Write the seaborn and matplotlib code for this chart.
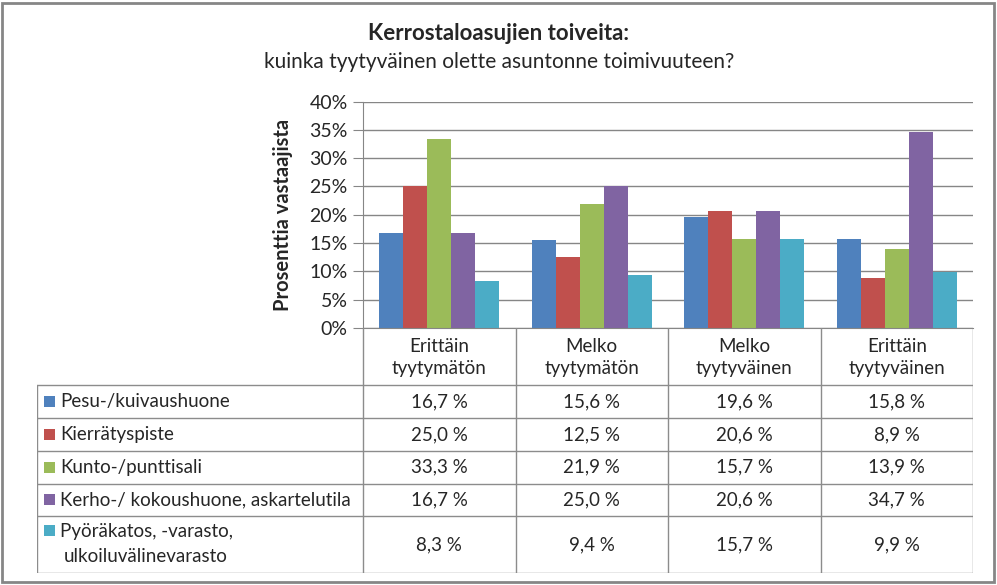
import numpy as np
import pandas as pd
import seaborn as sns
import matplotlib.pyplot as plt
from matplotlib.patches import Rectangle
from matplotlib.ticker import FuncFormatter

# Data
categories = ['Erittäin\ntyytymätön', 'Melko\ntyytymätön', 'Melko\ntyytyväinen', 'Erittäin\ntyytyväinen']
series = ['Pesu-/kuivaushuone', 'Kierrätyspiste', 'Kunto-/punttisali',
          'Kerho-/ kokoushuone, askartelutila', 'Pyöräkatos, -varasto,\nulkoiluvälinevarasto']
pesu = [16.7, 15.6, 19.6, 15.8]
kierratys = [25.0, 12.5, 20.6, 8.9]
kunto = [33.3, 21.9, 15.7, 13.9]
kerho = [16.7, 25.0, 20.6, 34.7]
pyora = [8.3, 9.4, 15.7, 9.9]
values = [pesu, kierratys, kunto, kerho, pyora]
colors = ['#4F81BD', '#C0504D', '#9BBB59', '#8064A2', '#4BACC6']

rows = []
for s, vals in zip(series, values):
    for c, v in zip(categories, vals):
        rows.append({'Kategoria': c, 'Sarja': s, 'Arvo': v})
df = pd.DataFrame(rows)

sns.set_style('white')
plt.rcParams['font.family'] = ['Lato', 'DejaVu Sans']

W, H = 997, 585
fig = plt.figure(figsize=(W / 100, H / 100), dpi=100)
fig.patches.append(Rectangle((1.5 / W, 3.5 / H), 992 / W, 579 / H, transform=fig.transFigure,
                             fill=False, edgecolor='#868686', linewidth=2))

# Chart
x0, x1, ytop, ybot = 363, 973, 101.5, 328
ax = fig.add_axes([x0 / W, 1 - ybot / H, (x1 - x0) / W, (ybot - ytop) / H])
sns.barplot(data=df, x='Kategoria', y='Arvo', hue='Sarja', palette=colors, width=0.79, gap=0,
            saturation=1, errorbar=None, legend=False, ax=ax)
for p in ax.patches:
    p.set_edgecolor('none')
ax.set_xlim(-0.5, 3.5)
ax.set_ylim(0, 40)
ax.set_yticks(np.arange(0, 41, 5))
ax.yaxis.set_major_formatter(FuncFormatter(lambda v, _: f'{int(v)}%'))
ax.yaxis.grid(True, color='#868686', linewidth=1)
ax.set_axisbelow(True)
ax.set_xticks([])
ax.set_xlabel('')
ax.set_ylabel('Prosenttia vastaajista', fontsize=14.5, fontweight='bold', labelpad=12)
ax.tick_params(axis='y', left=True, length=7, color='#868686', labelsize=14, pad=4)
for side in ['top', 'right']:
    ax.spines[side].set_visible(False)
for side in ['left', 'bottom']:
    ax.spines[side].set_color('#868686')

fig.text(499 / W, 1 - 34 / H, 'Kerrostaloasujien toiveita:', ha='center', va='center',
         fontsize=16, fontweight='bold')
fig.text(499 / W, 1 - 62 / H, 'kuinka tyytyväinen olette asuntonne toimivuuteen?', ha='center',
         va='center', fontsize=15)

# Data table
tl, tb = 37, 573
fs = 13.5
tax = fig.add_axes([tl / W, 1 - tb / H, (x1 - tl) / W, (tb - ybot) / H])
tax.set_xlim(tl, x1)
tax.set_ylim(tb, ybot)
tax.axis('off')
line_kw = dict(color='#8c8c8c', linewidth=1)
col_edges = x0 + (x1 - x0) * np.arange(len(categories) + 1) / len(categories)
row_edges = [385, 418, 451, 483.5, 516, 573]
for y in row_edges:
    tax.plot([tl, x1], [y, y], **line_kw)
tax.plot([tl, tl], [row_edges[0], tb], **line_kw)
for x in col_edges:
    tax.plot([x, x], [ybot, tb], **line_kw)

for i, c in enumerate(categories):
    cx = (col_edges[i] + col_edges[i + 1]) / 2
    tax.text(cx, (ybot + row_edges[0]) / 2 + 1, c, ha='center', va='center', fontsize=fs,
             linespacing=1.3)

for j, (s, vals) in enumerate(zip(series, values)):
    ymid = (row_edges[j] + row_edges[j + 1]) / 2
    tax.add_patch(Rectangle((44, ymid - 5.5 if j < 4 else row_edges[j] + 9), 11, 11,
                            facecolor=colors[j], edgecolor='none'))
    if '\n' in s:
        a, b = s.split('\n')
        tax.text(60, row_edges[j] + 15, a, ha='left', va='center', fontsize=fs)
        tax.text(64, row_edges[j] + 40, b, ha='left', va='center', fontsize=fs)
    else:
        tax.text(60, ymid, s, ha='left', va='center', fontsize=fs)
    for i, v in enumerate(vals):
        cx = (col_edges[i] + col_edges[i + 1]) / 2
        tax.text(cx, ymid, f'{v:.1f} %'.replace('.', ','), ha='center', va='center', fontsize=fs)

fig.savefig('out.png', dpi=100)
